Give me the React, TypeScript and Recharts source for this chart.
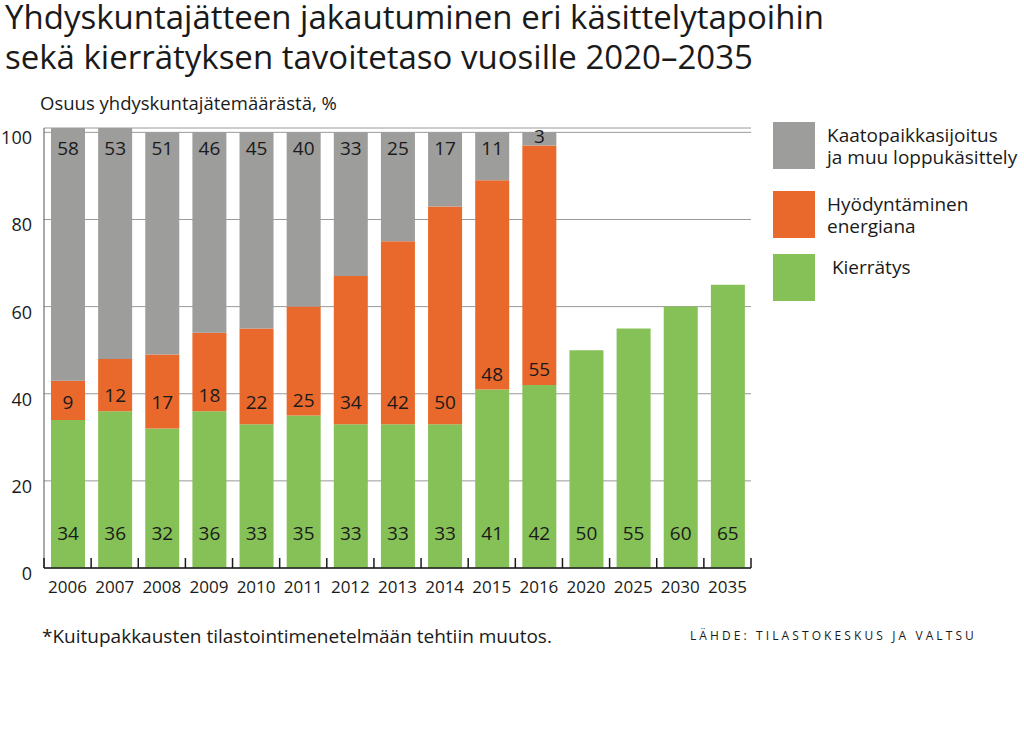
import React from 'react';
import { BarChart, Bar, XAxis, YAxis, CartesianGrid, LabelList, Legend } from 'recharts';

const years = ['2006', '2007', '2008', '2009', '2010', '2011', '2012', '2013', '2014', '2015', '2016', '2020', '2025', '2030', '2035'];
const recycling = [34, 36, 32, 36, 33, 35, 33, 33, 33, 41, 42, 50, 55, 60, 65];
const energy: (number | null)[] = [9, 12, 17, 18, 22, 25, 34, 42, 50, 48, 55, null, null, null, null];
const landfill: (number | null)[] = [58, 53, 51, 46, 45, 40, 33, 25, 17, 11, 3, null, null, null, null];
const yTicks = [0, 20, 40, 60, 80, 100];

const NAME_LANDFILL = 'Kaatopaikkasijoitus\nja muu loppukäsittely';
const NAME_ENERGY = 'Hyödyntäminen\nenergiana';
const NAME_RECYCLING = ' Kierrätys';

const COLOR_LANDFILL = '#9d9d9c';
const COLOR_ENERGY = '#e9692c';
const COLOR_RECYCLING = '#86c157';
const TEXT = '#1a1a1a';
const FONT = '"Open Sans", "Noto Sans", sans-serif';

const data = years.map((year, i) => ({
  year,
  recycling: recycling[i],
  energy: energy[i],
  landfill: landfill[i],
}));

const CHART_W = 1024;
const CHART_H = 732;
const MARGIN = { top: 128, right: 273, bottom: 134, left: 0 };
const Y_AXIS_W = 44;
const PLOT_W = CHART_W - MARGIN.left - MARGIN.right - Y_AXIS_W;

const labelStyle = { fontFamily: FONT, fontSize: 19, fill: TEXT };

// label anchored at a value level inside a segment, computed from the segment's own geometry
const segLabel = (kind: 'recycling' | 'energy' | 'landfill') => (props: any) => {
  const { x, y, width, height, value, index } = props;
  if (value == null || !height) return null;
  const ppu = height / value;
  const bottom = y + height;
  let base = 0;
  let pos = 0;
  if (kind === 'recycling') {
    base = 0;
    pos = 8;
  } else if (kind === 'energy') {
    base = recycling[index];
    pos = Math.max(38.2, base + 3.6);
  } else {
    base = recycling[index] + (energy[index] ?? 0);
    const top = base + value;
    pos = value >= 6 ? 96.5 : top - 0.8;
  }
  const cy = bottom - (pos - base) * ppu;
  return (
    <text x={x + width / 2} y={cy} textAnchor="middle" dominantBaseline="central" style={labelStyle}>
      {value}
    </text>
  );
};

const XTick = (props: any) => {
  const { x, y, payload, index } = props;
  const half = payload && payload.offset ? payload.offset : PLOT_W / years.length / 2;
  const last = index === years.length - 1;
  return (
    <g>
      <line x1={x - half} x2={x - half} y1={y} y2={y - 10} stroke={TEXT} strokeWidth={1.5} />
      {last && <line x1={x + half} x2={x + half} y1={y} y2={y - 10} stroke={TEXT} strokeWidth={1.5} />}
      <text x={x} y={y + 25} textAnchor="middle" style={{ fontFamily: FONT, fontSize: 17, fill: TEXT }}>
        {payload.value}
      </text>
    </g>
  );
};

const YTick = (props: any) => {
  const { x, y, payload } = props;
  return (
    <text x={x} y={y + 5} textAnchor="end" dominantBaseline="central" style={{ fontFamily: FONT, fontSize: 18, fill: TEXT }}>
      {payload.value}
    </text>
  );
};

const legendOrder = [NAME_LANDFILL, NAME_ENERGY, NAME_RECYCLING];
const legendGaps = [22, 16, 0];

const LegendContent = (props: any) => {
  const payload = props.payload || [];
  const items = legendOrder
    .map((n) => payload.find((p: any) => p.value === n))
    .filter(Boolean);
  return (
    <div style={{ fontFamily: FONT, fontSize: 19, color: TEXT, textAlign: 'left' }}>
      {items.map((item: any, i: number) => (
        <div key={i} style={{ display: 'flex', alignItems: 'flex-start', marginBottom: legendGaps[i] }}>
          <div style={{ width: 42, height: 47, background: item.color, flexShrink: 0 }} />
          <div style={{ marginLeft: 12, marginTop: 2, lineHeight: '22px', whiteSpace: 'pre' }}>{item.value}</div>
        </div>
      ))}
    </div>
  );
};

const titleLine = { position: 'absolute' as const, left: 5, fontSize: 33, fontWeight: 500, lineHeight: '33px', whiteSpace: 'nowrap' as const };

export default function App() {
  return (
    <div style={{ position: 'absolute', left: 0, top: 0, width: CHART_W, height: CHART_H, background: '#fff', fontFamily: FONT, color: TEXT }}>
      <div style={{ ...titleLine, top: 0 }}>Yhdyskuntajätteen jakautuminen eri käsittelytapoihin</div>
      <div style={{ ...titleLine, top: 40 }}>sekä kierrätyksen tavoitetaso vuosille 2020–2035</div>
      <div style={{ position: 'absolute', left: 40, top: 90, fontSize: 18.5, lineHeight: '26px', whiteSpace: 'nowrap' }}>
        Osuus yhdyskuntajätemäärästä, %
      </div>
      <BarChart width={CHART_W} height={CHART_H} data={data} margin={MARGIN} barSize={34}>
        <CartesianGrid vertical={false} stroke="#9a9a9a" strokeWidth={1} />
        <XAxis
          dataKey="year"
          height={30}
          tickLine={false}
          tickSize={0}
          tickMargin={0}
          axisLine={{ stroke: TEXT, strokeWidth: 1.5 }}
          tick={<XTick />}
          interval={0}
        />
        <YAxis
          width={Y_AXIS_W}
          domain={[0, 101]}
          ticks={yTicks}
          tickLine={false}
          tickSize={0}
          tickMargin={12}
          axisLine={{ stroke: '#555', strokeWidth: 1 }}
          tick={<YTick />}
          interval={0}
        />
        <Legend
          layout="horizontal"
          verticalAlign="middle"
          align="center"
          content={<LegendContent />}
          wrapperStyle={{ position: 'absolute', left: 773, top: 122, width: 251, margin: 0 }}
        />
        <Bar dataKey="recycling" name={NAME_RECYCLING} stackId="a" fill={COLOR_RECYCLING} isAnimationActive={false}>
          <LabelList dataKey="recycling" content={segLabel('recycling')} />
        </Bar>
        <Bar dataKey="energy" name={NAME_ENERGY} stackId="a" fill={COLOR_ENERGY} isAnimationActive={false}>
          <LabelList dataKey="energy" content={segLabel('energy')} />
        </Bar>
        <Bar dataKey="landfill" name={NAME_LANDFILL} stackId="a" fill={COLOR_LANDFILL} isAnimationActive={false}>
          <LabelList dataKey="landfill" content={segLabel('landfill')} />
        </Bar>
      </BarChart>
      <div style={{ position: 'absolute', left: 42, top: 623, fontSize: 19, lineHeight: '27px', whiteSpace: 'nowrap' }}>
        *Kuitupakkausten tilastointimenetelmään tehtiin muutos.
      </div>
      <div style={{ position: 'absolute', left: 690, top: 628, fontSize: 12, letterSpacing: 3.1, lineHeight: '16px', whiteSpace: 'nowrap' }}>
        LÄHDE: TILASTOKESKUS JA VALTSU
      </div>
    </div>
  );
}
